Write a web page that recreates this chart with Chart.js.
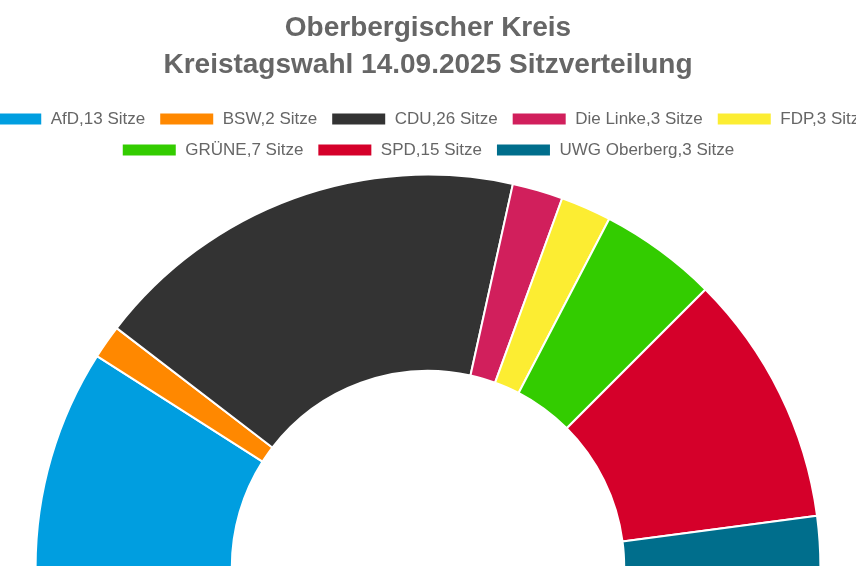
<!DOCTYPE html>
<html lang="de">
<head>
<meta charset="utf-8">
<title>Oberbergischer Kreis Sitzverteilung</title>
<script src="https://cdn.jsdelivr.net/npm/chart.js@4.4.1/dist/chart.umd.min.js"></script>
<style>
    html, body { margin: 0; padding: 0; background: #fff; overflow: hidden; width: 856px; height: 568px; }
    #wrap { position: absolute; left: -52px; top: 0; width: 960px; height: 568px; }
</style>
</head>
<body>
<div id="wrap"><canvas id="seatsChart" width="960" height="568"></canvas></div>
<script>
const parties = ['AfD', 'BSW', 'CDU', 'Die Linke', 'FDP', 'GRÜNE', 'SPD', 'UWG Oberberg'];
const seats = [13, 2, 26, 3, 3, 7, 15, 3];
const partyColors = ['#009ee0', '#ff8800', '#333333', '#d11f5c', '#fced32', '#33cc00', '#d5002a', '#006e8c'];
const titleLines = ['Oberbergischer Kreis', 'Kreistagswahl 14.09.2025 Sitzverteilung'];

document.addEventListener('DOMContentLoaded', () => {
    const ctx = document.getElementById('seatsChart').getContext('2d');

    // Legendentext: "Partei,N Sitze"
    const labels = parties.map((p, i) => `${p},${seats[i]} Sitze`);

    // etwas Abstand unter der Legende
    const legendMargin = {
        id: 'legendMargin',
        beforeInit(chart) {
            const origFit = chart.legend.fit;
            chart.legend.fit = function () {
                origFit.bind(chart.legend)();
                this.height += 5;
            };
        }
    };

    new Chart(ctx, {
        type: 'doughnut',
        data: {
            labels: labels,
            datasets: [{
                data: seats,
                backgroundColor: partyColors,
                borderColor: '#ffffff',
                borderWidth: 2
            }]
        },
        options: {
            responsive: false,
            animation: false,
            rotation: -90,
            circumference: 180,
            cutout: '50%',
            layout: { padding: 0 },
            plugins: {
                title: {
                    display: true,
                    text: titleLines,
                    color: '#666666',
                    font: { family: 'Arial, "Liberation Sans", sans-serif', size: 28, weight: 'bold', lineHeight: 1.35 },
                    padding: { top: 9, bottom: 12 }
                },
                legend: {
                    display: true,
                    position: 'top',
                    labels: {
                        color: '#666666',
                        boxWidth: 55,
                        boxHeight: 13,
                        padding: 14,
                        font: { family: 'Arial, "Liberation Sans", sans-serif', size: 17 }
                    }
                },
                tooltip: { enabled: false }
            }
        },
        plugins: [legendMargin]
    });
});
</script>
</body>
</html>
